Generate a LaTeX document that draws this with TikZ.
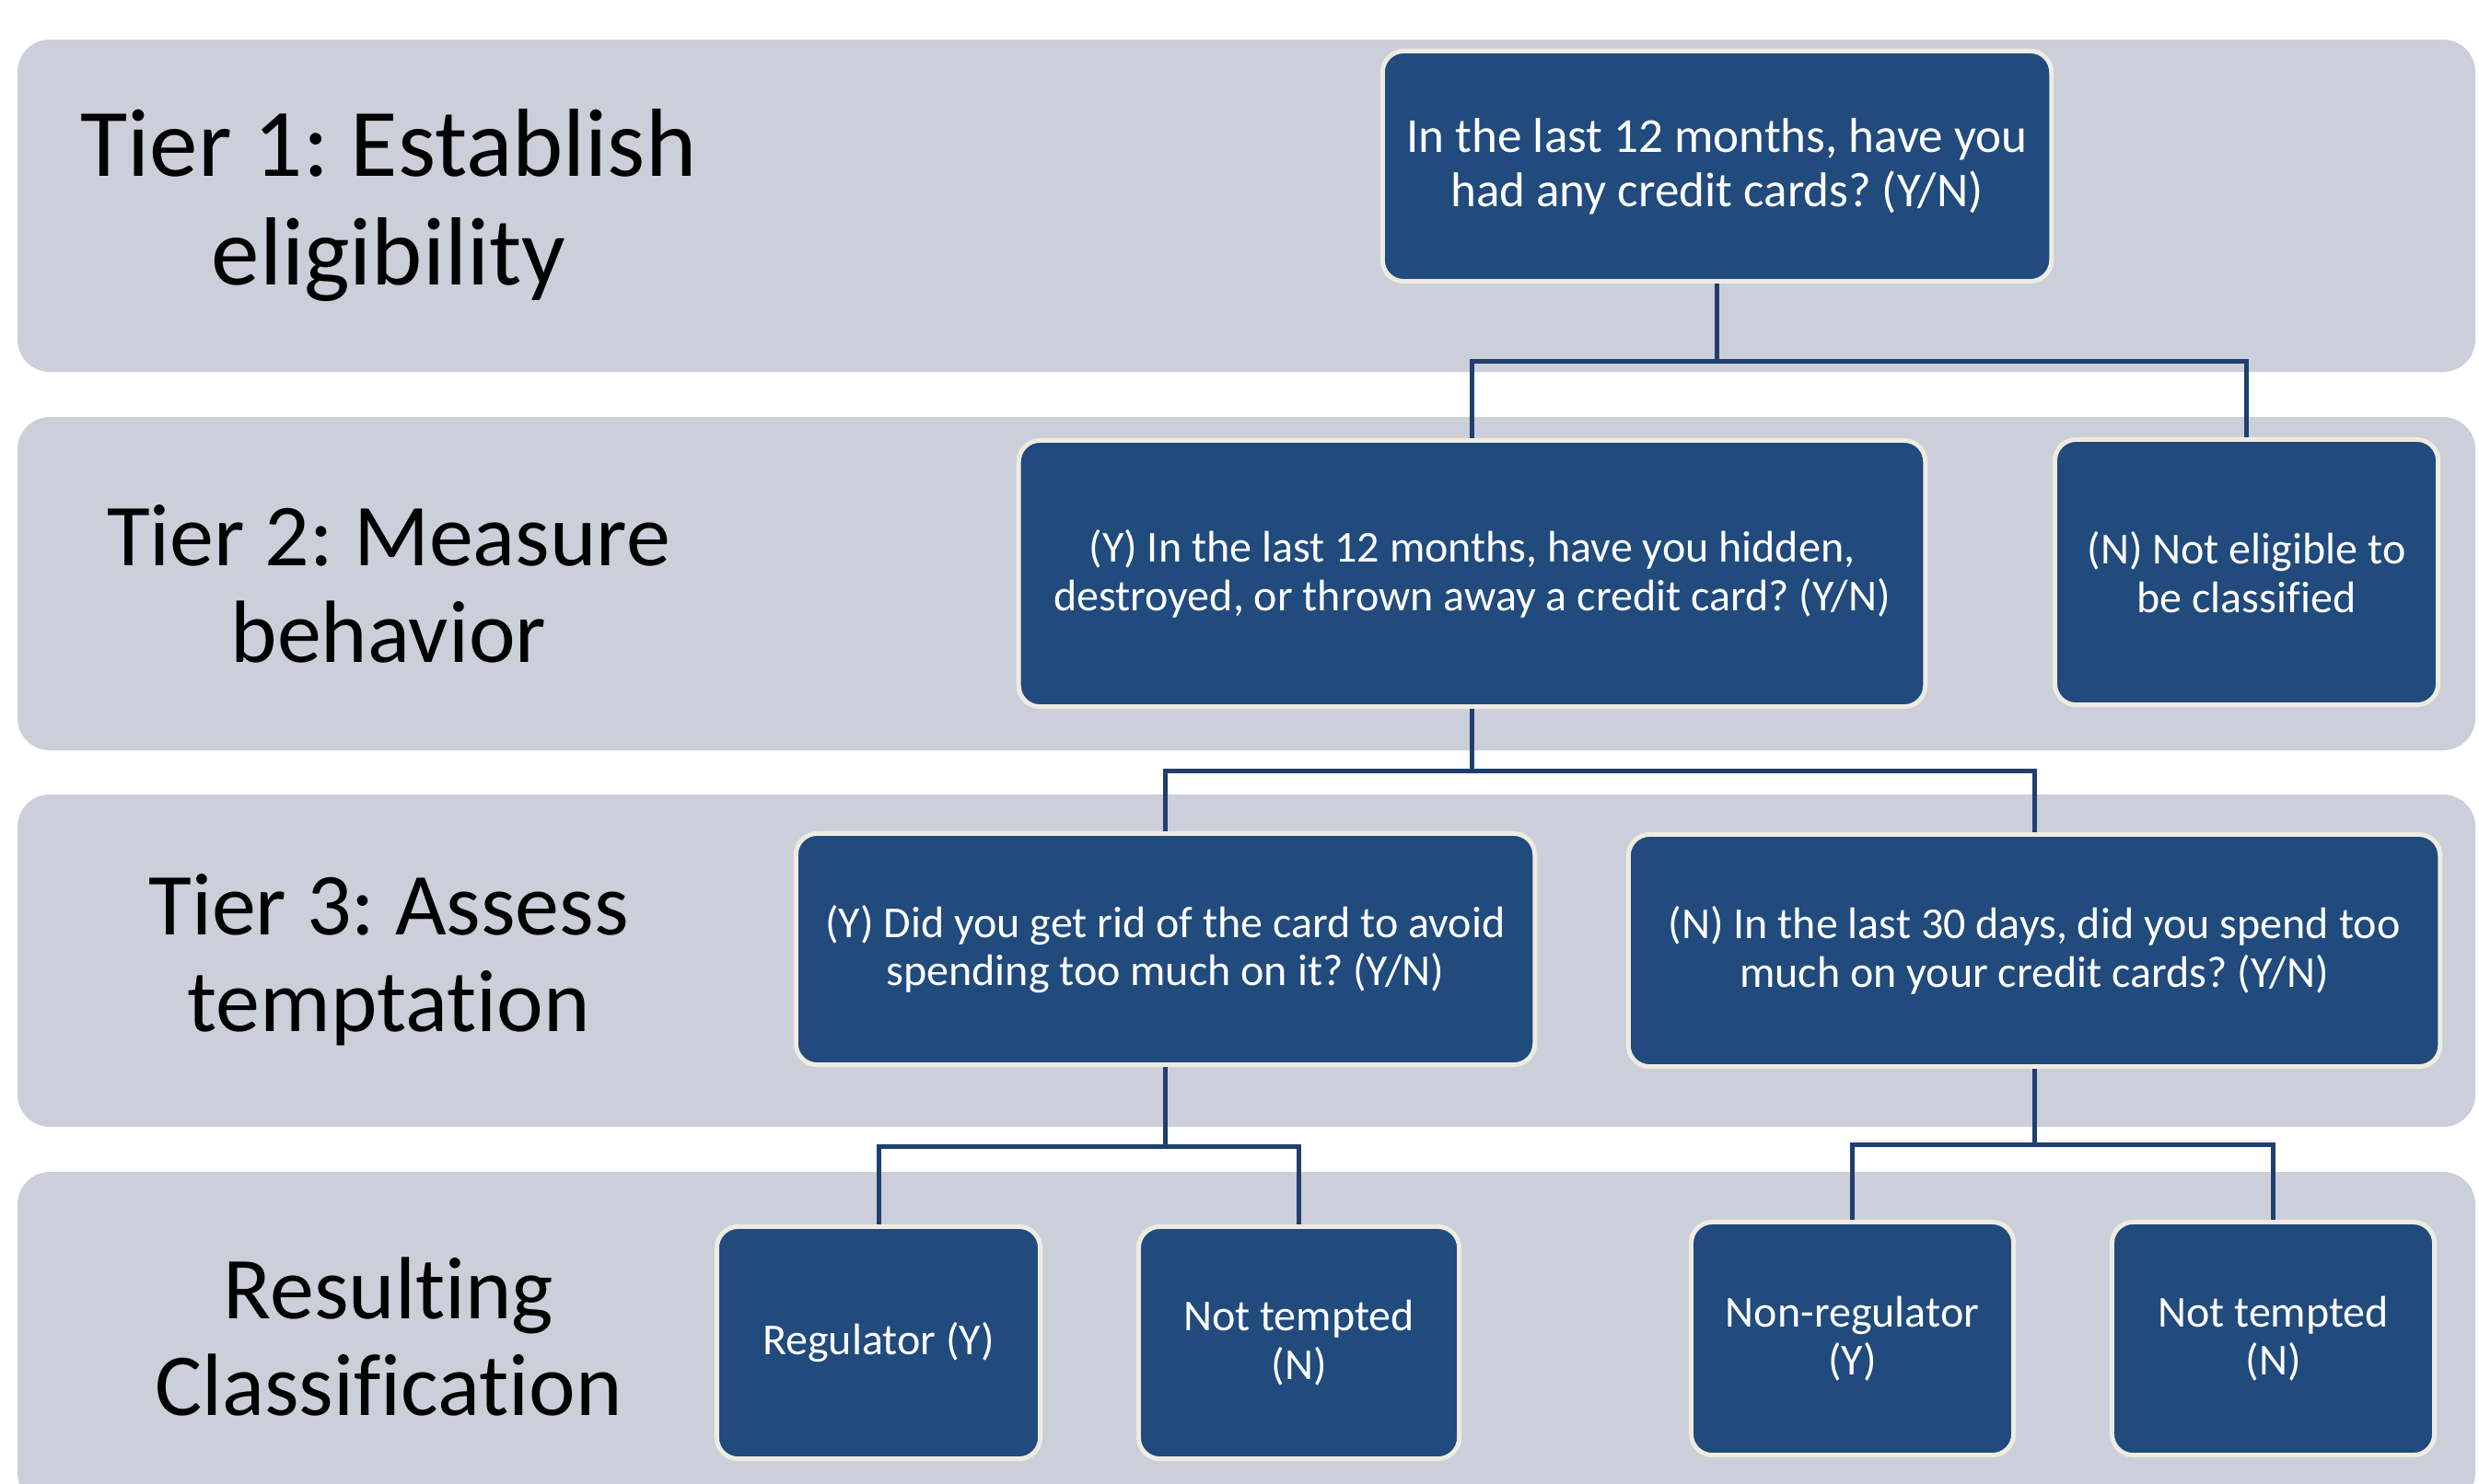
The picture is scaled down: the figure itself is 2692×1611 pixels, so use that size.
\documentclass[tikz,border=0pt]{standalone}
\usepackage{fontspec}
\setmainfont{Carlito}[Ligatures=NoCommon]
\definecolor{bandc}{HTML}{CCCFD9}
\definecolor{boxc}{HTML}{214A7D}
\definecolor{edgec}{HTML}{EEECE1}
\definecolor{linec}{HTML}{1F3F6E}
\begin{document}
\frenchspacing
\begin{tikzpicture}[x=0.01cm,y=-0.01cm,
  band/.style={fill=bandc, rounded corners=0.35cm},
  box/.style={draw=edgec, line width=1.42pt, fill=boxc, rounded corners=0.23cm,
    text=white, align=center, inner sep=0pt, font=\fontsize{13.66}{15}\selectfont},
  bigq/.style={font=\fontsize{15.1}{16.8}\selectfont},
  conn/.style={draw=linec, line width=1.42pt},
  tier/.style={align=center, font=\fontsize{27.3}{29.9}\selectfont, text=black},
  tierbig/.style={font=\fontsize{29.9}{33.3}\selectfont}]
\clip (0,0) rectangle (2692,1611);
\useasboundingbox (0,0) rectangle (2692,1611);
% bands
\path[band] (19,43) rectangle (2688,404);
\path[band] (19,453) rectangle (2688,815);
\path[band] (19,863) rectangle (2688,1224);
\path[band] (19,1273) rectangle (2688,1635);
% tier labels
\node[tier,tierbig] (t1) at (422,223) {Tier 1: Establish\\eligibility};
\node[tier] (t2) at (422,634) {Tier 2: Measure\\behavior};
\node[tier] (t3) at (422,1043) {Tier 3: Assess\\temptation};
\node[tier] (t4) at (422,1452) {Resulting\\Classification};
% boxes
\node[box,bigq, minimum width=7.26cm, minimum height=2.50cm] (A) at (1864.5,180.5)
  {In the last 12 months, have you\\had any credit cards? (Y/N)};
\node[box, minimum width=9.84cm, minimum height=2.89cm] (B) at (1598.5,623)
  {(Y) In the last 12 months, have you hidden,\\destroyed, or thrown away a credit card? (Y/N)};
\node[box, minimum width=4.16cm, minimum height=2.88cm] (C) at (2439.5,621.5)
  {(N) Not eligible to\\be classified};
\node[box, minimum width=8.02cm, minimum height=2.51cm] (D) at (1265.5,1031)
  {(Y) Did you get rid of the card to avoid\\spending too much on it? (Y/N)};
\node[box, minimum width=8.81cm, minimum height=2.52cm] (E) at (2209,1032.5)
  {(N) In the last 30 days, did you spend too\\much on your credit cards? (Y/N)};
\node[box, minimum width=3.51cm, minimum height=2.52cm] (F) at (954,1458.5)
  {Regulator (Y)};
\node[box, minimum width=3.48cm, minimum height=2.52cm] (G) at (1410.5,1458.5)
  {Not tempted\\(N)};
\node[box, minimum width=3.50cm, minimum height=2.53cm] (H) at (2011.5,1454)
  {Non-regulator\\(Y)};
\node[box, minimum width=3.50cm, minimum height=2.53cm] (I) at (2468.5,1454)
  {Not tempted\\(N)};
% bus coordinates
\coordinate (busA) at (0,392);
\coordinate (busB) at (0,837);
\coordinate (busD) at (0,1245);
\coordinate (busE) at (0,1243);
% connectors
\draw[conn] (A.south) |- (B.north |- busA) -- (B.north);
\draw[conn] (A.south) |- (C.north |- busA) -- (C.north);
\draw[conn] (B.south) |- (D.north |- busB) -- (D.north);
\draw[conn] (B.south) |- (E.north |- busB) -- (E.north);
\draw[conn] (D.south) |- (F.north |- busD) -- (F.north);
\draw[conn] (D.south) |- (G.north |- busD) -- (G.north);
\draw[conn] (E.south) |- (H.north |- busE) -- (H.north);
\draw[conn] (E.south) |- (I.north |- busE) -- (I.north);
\end{tikzpicture}
\end{document}
